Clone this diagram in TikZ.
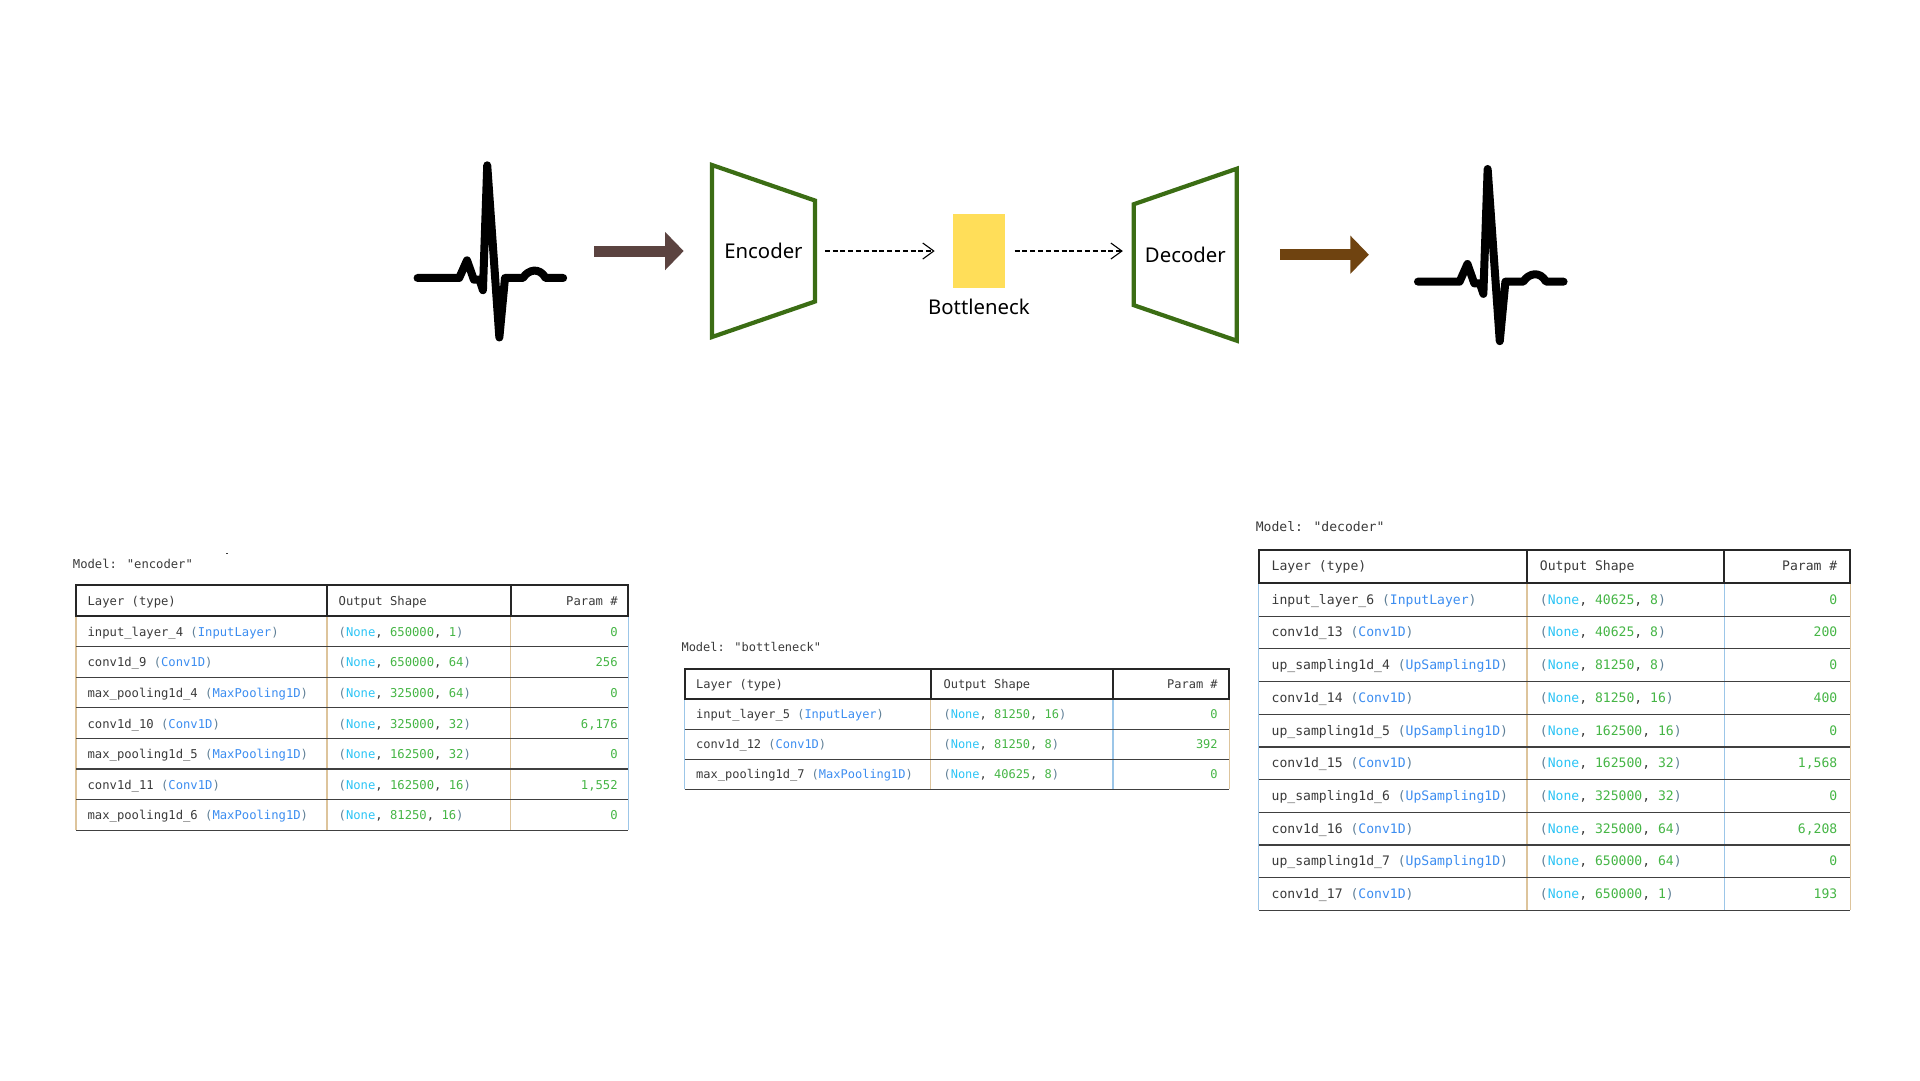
\documentclass[tikz,border=0pt]{standalone}
\usepackage{fontspec}
\usetikzlibrary{arrows.meta,calc}
\setmainfont{Noto Sans}
\newfontfamily\layerfont{DejaVu Sans Mono}
\definecolor{layerink}{HTML}{3A3A3A}
\definecolor{parenink}{HTML}{5F7F96}
\definecolor{typeblue}{HTML}{3C8DF0}
\definecolor{noneblue}{HTML}{2CC4F5}
\definecolor{countgreen}{HTML}{45B545}
\definecolor{trapgreen}{HTML}{3B6D14}
\definecolor{inarrow}{HTML}{5B4340}
\definecolor{outarrow}{HTML}{6F4310}
\definecolor{neckyellow}{HTML}{FFDE59}
\definecolor{ruletan}{HTML}{DDC49C}
\definecolor{ruleblue}{HTML}{9CC6E8}
\newcommand{\typecell}[2]{\textcolor{layerink}{#1} \textcolor{parenink}{(}\textcolor{typeblue}{#2}\textcolor{parenink}{)}}
\newcommand{\shapecell}[2]{\textcolor{parenink}{(}\textcolor{noneblue}{None}\textcolor{layerink}{,} \textcolor{countgreen}{#1}\textcolor{layerink}{,} \textcolor{countgreen}{#2}\textcolor{parenink}{)}}
\tikzset{
  trapnode/.style={minimum width=1.015cm, minimum height=1.705cm, inner sep=0pt, font=\fontsize{5.78}{7}\selectfont},
  trapline/.style={draw=trapgreen, line width=0.042cm, line join=miter},
  wavebox/.style={minimum width=1.518cm, minimum height=1.763cm, inner sep=0pt},
  dasharrow/.style={dashed, dash pattern=on 0.05cm off 0.028cm, line width=0.011cm, -{Straight Barb[length=0.11cm, width=0.16cm]}},
  fatarrow/.style={line width=0.11cm, -{Triangle[length=0.185cm, width=0.37cm]}},
  celltext/.style={inner sep=0pt, yshift=-0.012cm, text height=0.09cm, text depth=0.025cm, text=layerink},
  headrule/.style={draw=black!85, line width=0.02cm},
  rowrule/.style={draw=black!75, line width=0.012cm},
  pics/ecgwave/.style={code={
    \draw[line width=0.08cm, line cap=round, line join=round] (-58.5,22) -- (-24.5,22) -- (-18.1,7.6) -- (-12.5,23.4) -- (-7.9,23.4) -- (-5.1,32) -- (-1.6,-70) -- (8.3,70.6) -- (12.9,22) -- (27.5,22) .. controls (32,15) and (41,13) .. (46.1,22) -- (60.4,22);
  }}
}
\begin{document}
\begin{tikzpicture}[x=0.0122449cm, y=-0.0122449cm]
  \useasboundingbox (0,0) rectangle (1568,882);
  % signal, encoder, bottleneck, decoder, signal
  \node[wavebox] (ecgin) at (399.5,205) {};
  \pic at (ecgin.center) {ecgwave};
  \node[trapnode] (encoder) at (623.5,205) {Encoder};
  \draw[trapline] (encoder.north west) -- ($(encoder.north east)+(0,29)$) -- ($(encoder.south east)+(0,-29)$) -- (encoder.south west) -- cycle;
  \node[fill=neckyellow, minimum width=0.527cm, minimum height=0.735cm, inner sep=0pt] (neck) at (799.5,205) {};
  \node[font=\fontsize{5.78}{7}\selectfont, inner sep=0pt] (necklabel) at (799.5,251) {Bottleneck};
  \node[trapnode] (decoder) at (968,208) {Decoder};
  \draw[trapline] ($(decoder.north west)+(0,29)$) -- (decoder.north east) -- (decoder.south east) -- ($(decoder.south west)+(0,-29)$) -- cycle;
  \node[wavebox] (ecgout) at (1216.5,208) {};
  \pic at (ecgout.center) {ecgwave};
  \draw[fatarrow, inarrow, shorten <=0.283cm, shorten >=0.283cm] (ecgin) -- (encoder);
  \draw[dasharrow, shorten <=0.098cm, shorten >=0.172cm] (encoder.east) -- (neck.west);
  \draw[dasharrow, shorten <=0.086cm, shorten >=0.11cm] (neck.east) -- (neck.east -| decoder.west);
  \draw[fatarrow, outarrow, shorten <=0.43cm, shorten >=0.44cm] (decoder) -- (ecgout);

  % encoder table
  \begin{scope}[every node/.append style={font=\layerfont\fontsize{3.47}{4}\selectfont}]
    \node[celltext, anchor=west] (enctitle) at (59,461) {Model: "encoder"};
    \fill[layerink] (184.5,451.6) rectangle (186,452.6);
    \foreach \x/\c in {62/ruletan, 267/ruletan, 417/ruletan, 513/ruleblue} \draw[\c, line width=0.012cm] (\x,503) -- (\x,678);
    \foreach \i in {1,...,7} \draw[rowrule] (62,{503+25*\i}) -- (513,{503+25*\i});
    \draw[headrule] (62,478) rectangle (513,503);
    \foreach \x in {267,417} \draw[headrule] (\x,478) -- (\x,503);
    \node[celltext, anchor=west] (enchead1) at (71,491) {Layer (type)};
    \node[celltext, anchor=west] (enchead2) at (276,491) {Output Shape};
    \node[celltext, anchor=east] (enchead3) at (505,491) {Param \#};
    \foreach \i/\lname/\ltype/\lsize/\ldim/\lparam in {
      0/input\_layer\_4/InputLayer/650000/1/0,
      1/conv1d\_9/Conv1D/650000/64/256,
      2/max\_pooling1d\_4/MaxPooling1D/325000/64/0,
      3/conv1d\_10/Conv1D/325000/32/{6,176},
      4/max\_pooling1d\_5/MaxPooling1D/162500/32/0,
      5/conv1d\_11/Conv1D/162500/16/{1,552},
      6/max\_pooling1d\_6/MaxPooling1D/81250/16/0}{
      \node[celltext, anchor=west] (enclayer\i) at (71,{516+25*\i}) {\typecell{\lname}{\ltype}};
      \node[celltext, anchor=west] (encshape\i) at (276,{516+25*\i}) {\shapecell{\lsize}{\ldim}};
      \node[celltext, anchor=east, text=countgreen] (encparam\i) at (505,{516+25*\i}) {\lparam};
    }
  \end{scope}

  % bottleneck table
  \begin{scope}[every node/.append style={font=\layerfont\fontsize{3.41}{4}\selectfont}]
    \node[celltext, anchor=west] (necktitle) at (556,528.5) {Model: "bottleneck"};
    \foreach \x/\c in {559/ruleblue, 760/ruletan, 909/ruleblue, 1004/ruletan} \draw[\c, line width=0.012cm] (\x,571) -- (\x,644.5);
    \foreach \i in {1,2,3} \draw[rowrule] (559,{571+24.5*\i}) -- (1004,{571+24.5*\i});
    \draw[headrule] (559,546) rectangle (1004,571);
    \foreach \x in {760,909} \draw[headrule] (\x,546) -- (\x,571);
    \node[celltext, anchor=west] (neckhead1) at (568,558.5) {Layer (type)};
    \node[celltext, anchor=west] (neckhead2) at (770,558.5) {Output Shape};
    \node[celltext, anchor=east] (neckhead3) at (995,558.5) {Param \#};
    \foreach \i/\lname/\ltype/\lsize/\ldim/\lparam in {
      0/input\_layer\_5/InputLayer/81250/16/0,
      1/conv1d\_12/Conv1D/81250/8/392,
      2/max\_pooling1d\_7/MaxPooling1D/40625/8/0}{
      \node[celltext, anchor=west] (necklayer\i) at (568,{583.3+24.5*\i}) {\typecell{\lname}{\ltype}};
      \node[celltext, anchor=west] (neckshape\i) at (770,{583.3+24.5*\i}) {\shapecell{\lsize}{\ldim}};
      \node[celltext, anchor=east, text=countgreen] (neckparam\i) at (995,{583.3+24.5*\i}) {\lparam};
    }
  \end{scope}

  % decoder table
  \begin{scope}[every node/.append style={font=\layerfont\fontsize{3.72}{4}\selectfont}]
    \node[celltext, anchor=west] (dectitle) at (1025,430.5) {Model: "decoder"};
    \foreach \x/\c in {1028/ruleblue, 1247/ruletan, 1408/ruleblue, 1511/ruletan} \draw[\c, line width=0.012cm] (\x,476.5) -- (\x,743.5);
    \foreach \i in {1,...,10} \draw[rowrule] (1028,{476.5+26.7*\i}) -- (1511,{476.5+26.7*\i});
    \draw[headrule] (1028,449) rectangle (1511,476.5);
    \foreach \x in {1247,1408} \draw[headrule] (\x,449) -- (\x,476.5);
    \node[celltext, anchor=west] (dechead1) at (1038,462.5) {Layer (type)};
    \node[celltext, anchor=west] (dechead2) at (1257,462.5) {Output Shape};
    \node[celltext, anchor=east] (dechead3) at (1501,462.5) {Param \#};
    \foreach \i/\lname/\ltype/\lsize/\ldim/\lparam in {
      0/input\_layer\_6/InputLayer/40625/8/0,
      1/conv1d\_13/Conv1D/40625/8/200,
      2/up\_sampling1d\_4/UpSampling1D/81250/8/0,
      3/conv1d\_14/Conv1D/81250/16/400,
      4/up\_sampling1d\_5/UpSampling1D/162500/16/0,
      5/conv1d\_15/Conv1D/162500/32/{1,568},
      6/up\_sampling1d\_6/UpSampling1D/325000/32/0,
      7/conv1d\_16/Conv1D/325000/64/{6,208},
      8/up\_sampling1d\_7/UpSampling1D/650000/64/0,
      9/conv1d\_17/Conv1D/650000/1/193}{
      \node[celltext, anchor=west] (declayer\i) at (1038,{489.8+26.7*\i}) {\typecell{\lname}{\ltype}};
      \node[celltext, anchor=west] (decshape\i) at (1257,{489.8+26.7*\i}) {\shapecell{\lsize}{\ldim}};
      \node[celltext, anchor=east, text=countgreen] (decparam\i) at (1501,{489.8+26.7*\i}) {\lparam};
    }
  \end{scope}
\end{tikzpicture}
\end{document}
